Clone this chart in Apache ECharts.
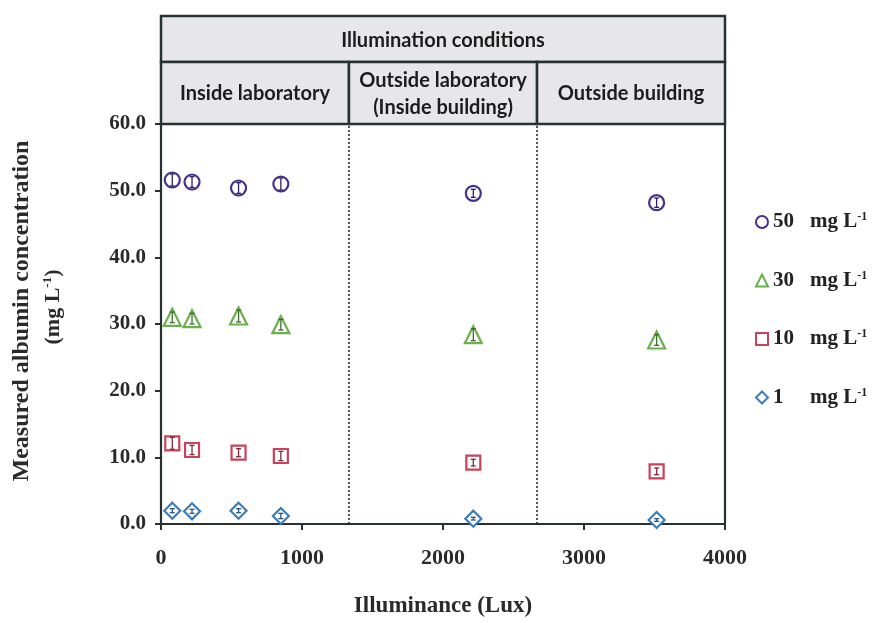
<!DOCTYPE html>
<html>
<head>
<meta charset="utf-8">
<script src="https://cdn.jsdelivr.net/npm/echarts@6/dist/echarts.min.js"></script>
<style>html,body{margin:0;padding:0;background:#fff;}#c{width:879px;height:623px;}</style>
</head>
<body>
<div id="c"></div>
<script>
// ---- data ----
const illuminance = [80, 220, 550, 850, 2215, 3515];
const seriesNames = ['50', '30', '10', '1'];
const conc50 = [51.6, 51.3, 50.4, 51.0, 49.6, 48.2];
const conc30 = [31.0, 30.8, 31.2, 29.9, 28.4, 27.6];
const conc10 = [12.1, 11.1, 10.7, 10.2, 9.2, 7.9];
const conc1  = [2.0, 1.9, 2.0, 1.2, 0.8, 0.6];
const err50 = [0.9, 0.8, 0.8, 0.9, 0.6, 0.7];
const err30 = [0.8, 0.8, 0.9, 0.8, 0.9, 0.8];
const err10 = [0.9, 0.7, 0.6, 0.7, 0.5, 0.5];
const err1  = [0.3, 0.3, 0.3, 0.4, 0.2, 0.2];
const xTicks = [0, 1000, 2000, 3000, 4000];
const yTicks = [0, 10, 20, 30, 40, 50, 60];
const zoneBounds = [1333, 2667];
const zoneTitle = 'Illumination conditions';
const zoneLabels = ['Inside laboratory', 'Outside laboratory\n(Inside building)', 'Outside building'];

const serif = "'Liberation Serif','Times New Roman',serif";
const sans = "Lato,'Open Sans',sans-serif";
const frame = '#263232';
const colors = ['#3f3290', '#6ab04c', '#c8425a', '#3b7dba'];
const barColors = ['#2e2560', '#3f6a2c', '#7a2a38', '#2a5580'];
const symbols = ['circle', 'triangle', 'rect', 'diamond'];
const sizes = [15, 17, 14, 16];
const values = [conc50, conc30, conc10, conc1];
const errs = [err50, err30, err10, err1];

const chart = echarts.init(document.getElementById('c'));

const series = [];
values.forEach((vals, i) => {
  series.push({
    name: seriesNames[i],
    type: 'scatter',
    symbol: symbols[i],
    symbolSize: sizes[i],
    itemStyle: { color: '#fff', borderColor: colors[i], borderWidth: 2.2, opacity: 1 },
    data: illuminance.map((x, j) => [x, vals[j]]),
    z: 3
  });
  series.push({
    type: 'custom',
    silent: true,
    z: 4,
    data: illuminance.map((x, j) => [x, vals[j], errs[i][j]]),
    renderItem: function (params, api) {
      const x = api.value(0), y = api.value(1), e = api.value(2);
      const hi = api.coord([x, y + e]);
      const lo = api.coord([x, y - e]);
      const w = 2.5;
      const st = { stroke: barColors[i], lineWidth: 1.3 };
      return {
        type: 'group',
        children: [
          { type: 'line', shape: { x1: hi[0], y1: hi[1], x2: lo[0], y2: lo[1] }, style: st },
          { type: 'line', shape: { x1: hi[0] - w, y1: hi[1], x2: hi[0] + w, y2: hi[1] }, style: st },
          { type: 'line', shape: { x1: lo[0] - w, y1: lo[1], x2: lo[0] + w, y2: lo[1] }, style: st }
        ]
      };
    }
  });
});

// dotted zone separators
series.push({
  type: 'line',
  data: [],
  markLine: {
    silent: true,
    symbol: 'none',
    label: { show: false },
    lineStyle: { color: '#222', type: [2, 2], width: 1.5 },
    data: zoneBounds.map(b => [{ coord: [b, yTicks[0]] }, { coord: [b, yTicks[yTicks.length - 1]] }])
  }
});

const option = {
  animation: false,
  backgroundColor: '#fff',
  grid: { left: 161, top: 124, width: 564, height: 400 },
  xAxis: {
    type: 'value',
    min: xTicks[0], max: xTicks[xTicks.length - 1], interval: 1000,
    name: 'Illuminance (Lux)',
    nameLocation: 'middle',
    nameGap: 71,
    nameTextStyle: { fontFamily: serif, fontWeight: 'bold', fontSize: 23, color: '#2a2a2a' },
    axisLine: { lineStyle: { color: frame, width: 2.2 } },
    axisTick: { inside: false, length: 6, lineStyle: { color: frame, width: 2 } },
    axisLabel: { margin: 23, fontFamily: serif, fontWeight: 'bold', fontSize: 22, color: '#2a2a2a',
                 formatter: v => String(v) },
    splitLine: { show: false }
  },
  yAxis: [{
    type: 'value',
    min: yTicks[0], max: yTicks[yTicks.length - 1], interval: 10,
    axisLine: { show: true, lineStyle: { color: frame, width: 2.2 } },
    axisTick: { show: true, length: 6, lineStyle: { color: frame, width: 2 } },
    axisLabel: { margin: 15, fontFamily: serif, fontWeight: 'bold', fontSize: 21, color: '#2a2a2a',
                 formatter: v => v.toFixed(1) },
    splitLine: { show: false }
  }, {
    type: 'value', position: 'right',
    min: yTicks[0], max: yTicks[yTicks.length - 1], interval: 10,
    axisLine: { show: true, lineStyle: { color: frame, width: 2.2 } },
    axisTick: { show: false }, axisLabel: { show: false }, splitLine: { show: false }
  }],
  legend: {
    orient: 'vertical',
    left: 750, top: 206,
    itemGap: 37,
    itemWidth: 12, itemHeight: 12,
    data: seriesNames.map((n, i) => ({ name: n, icon: symbols[i] })),
    formatter: n => `{n|${n}}{u|mg L}{s|-1}`,
    textStyle: {
      color: '#222',
      rich: {
        n: { fontFamily: serif, fontWeight: 'bold', fontSize: 21, width: 37 },
        u: { fontFamily: serif, fontWeight: 'bold', fontSize: 21 },
        s: { fontFamily: serif, fontWeight: 'bold', fontSize: 12, padding: [0, 0, 10, 0] }
      }
    }
  },
  series: series
};
chart.setOption(option);

// header table + y-axis title, positioned from the axes
const px = v => chart.convertToPixel({ xAxisIndex: 0 }, v);
const gx0 = px(xTicks[0]), gx1 = px(xTicks[xTicks.length - 1]);
const yTop = chart.convertToPixel({ yAxisIndex: 0 }, yTicks[yTicks.length - 1]);
const row0 = 16, row1 = 62;
const cellX = [gx0, px(zoneBounds[0]), px(zoneBounds[1]), gx1];
const border = { stroke: frame, lineWidth: 2.5 };
const fill = '#e7e7e9';
const headerText = { fontFamily: sans, fontWeight: 'bold', fontSize: 20, fill: '#1c1c1c', align: 'center', verticalAlign: 'middle', lineHeight: 27 };
const g = [];
g.push({ type: 'rect', shape: { x: gx0, y: row0, width: gx1 - gx0, height: row1 - row0 }, style: Object.assign({ fill: fill }, border) });
for (let k = 0; k < 3; k++) {
  g.push({ type: 'rect', shape: { x: cellX[k], y: row1, width: cellX[k + 1] - cellX[k], height: yTop - row1 }, style: Object.assign({ fill: fill }, border) });
}
g.push({ type: 'text', x: (gx0 + gx1) / 2, y: (row0 + row1) / 2 + 2, style: Object.assign({ text: zoneTitle }, headerText) });
for (let k = 0; k < 3; k++) {
  g.push({ type: 'text', x: (cellX[k] + cellX[k + 1]) / 2, y: (row1 + yTop) / 2 + 1, style: Object.assign({ text: zoneLabels[k] }, headerText) });
}
g.push({ type: 'text', x: 22, y: 311, rotation: Math.PI / 2,
  style: { text: 'Measured albumin concentration', fontFamily: serif, fontWeight: 'bold', fontSize: 24, fill: '#2a2a2a', align: 'center', verticalAlign: 'middle' } });
g.push({ type: 'text', x: 53, y: 307, rotation: Math.PI / 2,
  style: { text: '{a|(mg L}{s|-1}{a|)}', align: 'center', verticalAlign: 'middle', fill: '#2a2a2a',
    rich: { a: { fontFamily: serif, fontWeight: 'bold', fontSize: 22, fill: '#2a2a2a' },
            s: { fontFamily: serif, fontWeight: 'bold', fontSize: 13, fill: '#2a2a2a', padding: [0, 0, 10, 0] } } } });
chart.setOption({ graphic: g });
</script>
</body>
</html>
